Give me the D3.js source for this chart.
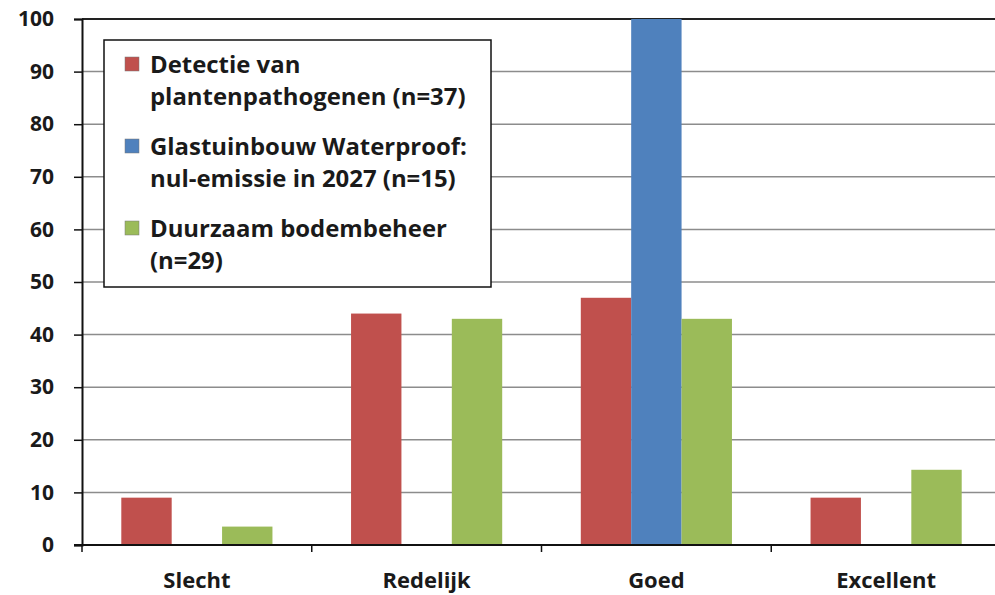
<!DOCTYPE html>
<html>
<head>
<meta charset="utf-8">
<script src="https://cdn.jsdelivr.net/npm/d3@7"></script>
<style>
  body { margin: 0; background: #fff; }
  text { font-family: "Open Sans", Lato, sans-serif; font-weight: bold; fill: #1a1a1a; }
</style>
</head>
<body>
<div id="chart"></div>
<script>
const categories = ['Slecht', 'Redelijk', 'Goed', 'Excellent'];
const seriesNames = [
    ['Detectie van', 'plantenpathogenen (n=37)'],
    ['Glastuinbouw Waterproof:', 'nul-emissie in 2027 (n=15)'],
    ['Duurzaam bodembeheer', '(n=29)']
];
const detectie = [9, 44, 47, 9];
const glastuinbouw = [0, 0, 100, 0];
const bodembeheer = [3.5, 43, 43, 14.3];
const yTicks = [0, 10, 20, 30, 40, 50, 60, 70, 80, 90, 100];

const colors = ['#C0504D', '#4F81BD', '#9BBB59'];
const series = [detectie, glastuinbouw, bodembeheer];

const width = 995;
const height = 595;
const margin = {top: 19, right: -6, bottom: 50, left: 82};

const svg = d3.select('#chart')
              .append('svg')
              .attr('width', width)
              .attr('height', height);

const x = d3.scaleBand()
            .domain(categories)
            .range([margin.left, width - margin.right]);

const xSub = d3.scaleBand()
               .domain(d3.range(series.length))
               .range([0, x.bandwidth()])
               .paddingOuter(0.78);

const y = d3.scaleLinear()
            .domain([0, 100])
            .range([height - margin.bottom, margin.top]);

// gridlines
svg.append('g')
   .selectAll('line')
   .data(yTicks.slice(1))
   .enter().append('line')
   .attr('x1', margin.left)
   .attr('x2', width)
   .attr('y1', d => y(d))
   .attr('y2', d => y(d))
   .attr('stroke', d => d === 100 ? '#222' : '#8c8c8c')
   .attr('stroke-width', d => d === 100 ? 2 : 1.5);

// bars
series.forEach((values, s) => {
    svg.append('g')
       .selectAll('rect')
       .data(values)
       .enter().append('rect')
       .attr('x', (d, i) => x(categories[i]) + xSub(s))
       .attr('y', d => y(d))
       .attr('width', xSub.bandwidth())
       .attr('height', d => y(0) - y(d))
       .attr('fill', colors[s]);
});

// y axis
const yAxis = d3.axisLeft(y)
                .tickValues(yTicks)
                .tickSize(8)
                .tickPadding(20);

const yg = svg.append('g')
              .attr('transform', `translate(${margin.left},0)`)
              .call(yAxis);
yg.select('.domain').attr('stroke', '#111').attr('stroke-width', 2);
yg.selectAll('.tick line').attr('stroke', '#111').attr('stroke-width', 1.5);
yg.selectAll('.tick text')
  .style('font-size', '21px')
  .style('font-family', '"Open Sans", Lato, sans-serif')
  .style('font-weight', 'bold')
  .attr('fill', '#1a1a1a');

// x axis
svg.append('line')
   .attr('x1', margin.left - 8)
   .attr('x2', width)
   .attr('y1', y(0))
   .attr('y2', y(0))
   .attr('stroke', '#111')
   .attr('stroke-width', 2);

svg.append('g')
   .selectAll('line')
   .data(categories)
   .enter().append('line')
   .attr('x1', d => x(d))
   .attr('x2', d => x(d))
   .attr('y1', y(0))
   .attr('y2', y(0) + 7)
   .attr('stroke', '#111')
   .attr('stroke-width', 1.5);

svg.append('g')
   .selectAll('text')
   .data(categories)
   .enter().append('text')
   .attr('x', d => x(d) + x.bandwidth() / 2)
   .attr('y', 588)
   .attr('text-anchor', 'middle')
   .style('font-size', '22px')
   .text(d => d);

// legend
const legend = svg.append('g');
legend.append('rect')
      .attr('x', 104)
      .attr('y', 40)
      .attr('width', 387)
      .attr('height', 247)
      .attr('fill', '#fff')
      .attr('stroke', '#111')
      .attr('stroke-width', 1.5);

const items = legend.selectAll('.legend-item')
                    .data(seriesNames)
                    .enter().append('g')
                    .attr('class', 'legend-item')
                    .attr('transform', (d, i) => `translate(125, ${57 + i * 82})`);

items.append('rect')
     .attr('width', 14)
     .attr('height', 14)
     .attr('fill', (d, i) => colors[i])
     .attr('stroke', '#777')
     .attr('stroke-width', 0.5);

items.append('text')
     .style('font-size', '23px')
     .attr('transform', 'scale(1.04,1)')
     .selectAll('tspan')
     .data(d => d)
     .enter().append('tspan')
     .attr('x', 24)
     .attr('y', (d, i) => 16 + i * 32)
     .text(d => d);
</script>
</body>
</html>
